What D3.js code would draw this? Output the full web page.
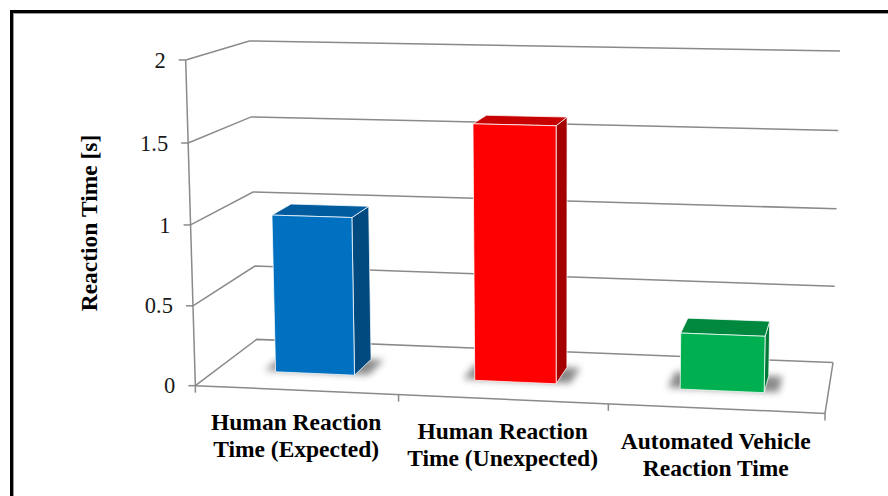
<!DOCTYPE html>
<html>
<head>
<meta charset="utf-8">
<script src="https://cdn.jsdelivr.net/npm/d3@7"></script>
<style>
  html, body { margin: 0; padding: 0; background: #fff; overflow: hidden; }
  svg { display: block; }
</style>
</head>
<body>
<svg id="chart" width="888" height="496"></svg>
<script>
// ---- data ----
const categories = ["Human Reaction Time (Expected)", "Human Reaction Time (Unexpected)", "Automated Vehicle Reaction Time"];
const categoryLines = [["Human Reaction", "Time (Expected)"], ["Human Reaction", "Time (Unexpected)"], ["Automated Vehicle", "Reaction Time"]];
const reactionTimes = [1.0, 1.6, 0.35];
const valueTicks = [0, 0.5, 1, 1.5, 2];
const valueTickLabels = ["0", "0.5", "1", "1.5", "2"];
const axisTitle = "Reaction Time [s]";

// face colours per bar: front, top, side
const frontColors = ["#0070C0", "#FF0000", "#00B050"];
const topColors = ["#005C9E", "#C80000", "#00893E"];
const sideColors = ["#004A80", "#A50000", "#007A36"];

// ---- perspective box: corners of the plot cube (u, value fraction, depth) on screen ----
const boxCorners = [
  [[0, 0, 0], [195, 386]],
  [[0, 1, 0], [186, 60]],
  [[0, 0, 1], [257, 339]],
  [[0, 1, 1], [249, 41]],
  [[1, 0, 1], [833, 363]],
  [[1, 1, 1], [840, 51]],
  [[1, 0, 0], [825, 413]],
  [[1, 1, 0], [832.5, 72]]
];

// least-squares fit of a 3x4 projective camera matrix (last entry fixed to 1)
function fitCamera(pairs) {
  const S = 1000;
  const rows = [], rhs = [];
  pairs.forEach(([[X, Y, Z], [px, py]]) => {
    const x = px / S, y = py / S;
    rows.push([X, Y, Z, 1, 0, 0, 0, 0, -x * X, -x * Y, -x * Z]); rhs.push(x);
    rows.push([0, 0, 0, 0, X, Y, Z, 1, -y * X, -y * Y, -y * Z]); rhs.push(y);
  });
  const n = 11;
  const M = Array.from({length: n}, () => new Array(n + 1).fill(0));
  rows.forEach((r, k) => {
    for (let i = 0; i < n; i++) {
      for (let j = 0; j < n; j++) M[i][j] += r[i] * r[j];
      M[i][n] += r[i] * rhs[k];
    }
  });
  for (let c = 0; c < n; c++) {
    let piv = c;
    for (let r = c + 1; r < n; r++) if (Math.abs(M[r][c]) > Math.abs(M[piv][c])) piv = r;
    [M[c], M[piv]] = [M[piv], M[c]];
    for (let r = 0; r < n; r++) {
      if (r === c) continue;
      const f = M[r][c] / M[c][c];
      for (let j = c; j <= n; j++) M[r][j] -= f * M[c][j];
    }
  }
  const p = M.map((row, i) => row[n] / row[i]);
  return (X, Y, Z) => {
    const w = p[8] * X + p[9] * Y + p[10] * Z + 1;
    return [S * (p[0] * X + p[1] * Y + p[2] * Z + p[3]) / w,
            S * (p[4] * X + p[5] * Y + p[6] * Z + p[7]) / w];
  };
}
const project = fitCamera(boxCorners);

// ---- scales ----
const xBand = d3.scaleBand().domain(d3.range(categories.length)).range([0, 1]).paddingInner(0.6).paddingOuter(0.3);
const xSlot = d3.scaleBand().domain(d3.range(categories.length)).range([0, 1]);
const yScale = d3.scaleLinear().domain([0, 2]).range([0, 1]);
const zBand = d3.scaleBand().domain(["series"]).range([0, 1]).padding(0.5);

const svg = d3.select("#chart");
const defs = svg.append("defs");
defs.append("filter").attr("id", "soft").attr("x", "-50%").attr("y", "-50%").attr("width", "200%").attr("height", "200%")
  .append("feGaussianBlur").attr("stdDeviation", 3.5);

const line = d3.line();
const gridColor = "#8a8a8a";

// ---- walls & gridlines ----
const grid = svg.append("g").attr("fill", "none").attr("stroke", gridColor).attr("stroke-width", 1.5);
valueTicks.forEach(v => {
  const yy = yScale(v);
  grid.append("path").attr("d", line([project(0, yy, 0), project(0, yy, 1), project(1, yy, 1)]));
});
// floor front and right edges
grid.append("path").attr("d", line([project(0, 0, 0), project(1, 0, 0), project(1, 0, 1)]));
// value axis
grid.append("path").attr("d", line([project(0, 0, 0), project(0, 1, 0)]));
// value ticks
valueTicks.forEach(v => {
  const [px, py] = project(0, yScale(v), 0);
  grid.append("path").attr("d", line([[px - 7, py], [px, py]]));
});
// category boundary ticks
d3.range(categories.length + 1).forEach(i => {
  const u = i / categories.length;
  const [px, py] = project(u, 0, 0);
  grid.append("path").attr("d", line([[px, py], [px, py + 7]]));
});

// ---- bars ----
const z0 = zBand("series"), z1 = z0 + zBand.bandwidth();
const bars = svg.append("g");
reactionTimes.forEach((val, i) => {
  const x0 = xBand(i), x1 = x0 + xBand.bandwidth();
  const h = yScale(val);
  const g = bars.append("g");
  // soft floor shadow around the base
  const padL = 0.02, padR = 0.022;
  g.append("path")
    .attr("d", line([project(x0 - padL, 0, z0 + 0.02), project(x1 + padR, 0, z0 + 0.02), project(x1 + padR, 0, z1), project(x0 - padL, 0, z1)]) + "Z")
    .attr("fill", "#3a3a3a").attr("opacity", 0.6).attr("filter", "url(#soft)");
  const faceStroke = f => f.attr("stroke", "#ffffff").attr("stroke-width", 1).attr("stroke-opacity", 0.75).attr("stroke-linejoin", "round");
  faceStroke(g.append("path")
    .attr("d", line([project(x1, 0, z0), project(x1, 0, z1), project(x1, h, z1), project(x1, h, z0)]) + "Z")
    .attr("fill", sideColors[i]));
  faceStroke(g.append("path")
    .attr("d", line([project(x0, h, z0), project(x1, h, z0), project(x1, h, z1), project(x0, h, z1)]) + "Z")
    .attr("fill", topColors[i]));
  faceStroke(g.append("path")
    .attr("d", line([project(x0, 0, z0), project(x1, 0, z0), project(x1, h, z0), project(x0, h, z0)]) + "Z")
    .attr("fill", frontColors[i]));
});

// ---- text ----
const serif = "'Times New Roman', 'Liberation Serif', serif";
const tickText = svg.append("g").attr("font-family", serif).attr("font-size", 22.5).attr("fill", "#1a1a1a").attr("text-anchor", "end");
valueTicks.forEach((v, k) => {
  const [px, py] = project(0, yScale(v), 0);
  tickText.append("text").attr("x", px - 20).attr("y", py).attr("dy", "0.34em").text(valueTickLabels[k]);
});

const catText = svg.append("g").attr("font-family", serif).attr("font-size", 23.5).attr("font-weight", "bold").attr("fill", "#000").attr("text-anchor", "middle");
categoryLines.forEach((lines, i) => {
  const [px, py] = project(xSlot(i) + xSlot.bandwidth() / 2, 0, 0);
  const t = catText.append("text").attr("x", px).attr("y", py + 40);
  lines.forEach((s, k) => t.append("tspan").attr("x", px).attr("dy", k === 0 ? 0 : 27).text(s));
});

svg.append("text")
  .attr("transform", "translate(97,223) rotate(-90)")
  .attr("font-family", serif).attr("font-size", 23.5).attr("font-weight", "bold")
  .attr("text-anchor", "middle").attr("fill", "#000")
  .text(axisTitle);

// ---- chart frame ----
svg.append("rect").attr("x", 13.5).attr("y", 13.5).attr("width", 1000).attr("height", 1000)
  .attr("fill", "none").attr("stroke", "#9a9a9a").attr("stroke-width", 1);
svg.append("rect").attr("x", 11.5).attr("y", 11.5).attr("width", 1000).attr("height", 1000)
  .attr("fill", "none").attr("stroke", "#000").attr("stroke-width", 3);
</script>
</body>
</html>
